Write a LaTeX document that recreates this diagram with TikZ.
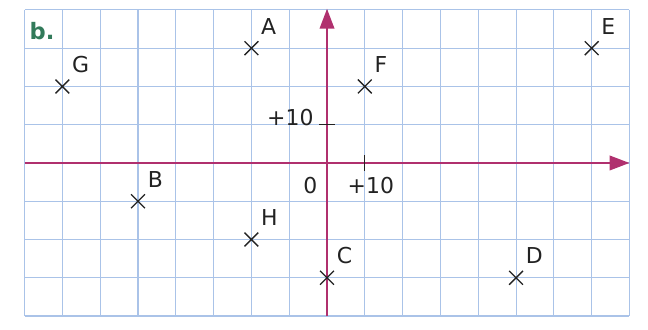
\documentclass[tikz,border=0pt]{standalone}
\usepackage{fontspec}
\setmainfont{DejaVu Sans}
\usepackage{xcolor}
\usepackage{tikz}
\usetikzlibrary{positioning,shapes.misc,arrows.meta}
\definecolor{GRLine}{HTML}{AAC3E8}
\definecolor{GRAxis}{HTML}{B0306E}
\definecolor{GRTitle}{HTML}{327A5A}
\definecolor{GRInk}{HTML}{222222}

\begin{document}
\begin{tikzpicture}[x=1cm,y=1.012cm,
  pt/.style={draw=GRInk,cross out,line width=1pt,minimum size=3.3mm,inner sep=0pt},
  lbl/.style={text=GRInk,inner sep=0pt,font=\fontsize{16.5}{19}\selectfont},
  axis/.style={GRAxis,line width=1.5pt,-{Triangle[length=15pt,width=11pt]}}]
\useasboundingbox (-8.65,-4.34) rectangle (8.49,4.26);
% squared paper
\foreach \i in {-8,...,8} \draw[GRLine,line width=0.8pt] (\i,-4) -- (\i,4);
\foreach \j in {-4,...,4} \draw[GRLine,line width=0.8pt] (-8,\j) -- (8,\j);
% axes
\coordinate (xs) at (-8,0);
\coordinate (xe) at (8,0);
\coordinate (ys) at (0,-4);
\coordinate (ye) at (0,4.03);
\draw[axis] (xs) -- (xe);
\draw[axis] (ys) -- (ye);
\draw[GRInk,line width=0.8pt] (1,-0.2) -- (1,0.2);
\draw[GRInk,line width=0.8pt] (-0.2,1) -- (0.2,1);
\node[lbl] (ty) at (-0.97,1.19) {+10};
\node[lbl] (tx) at (1.16,-0.58) {+10};
\node[lbl] (to) at (-0.44,-0.58) {0};
\node[text=GRTitle,inner sep=0pt,font=\fontsize{17}{20}\bfseries\selectfont] (tag) at (-7.54,3.45) {b.};
% points
\node[pt] (A) at (-2,3) {};
\node[pt] (B) at (-5,-1) {};
\node[pt] (C) at (0,-3) {};
\node[pt] (D) at (5,-3) {};
\node[pt] (E) at (7,3) {};
\node[pt] (F) at (1,2) {};
\node[pt] (G) at (-7,2) {};
\node[pt] (H) at (-2,-2) {};
\node[lbl,above right=0.18cm and 0.07cm of A] (lA) {A};
\node[lbl,above right=0.18cm and 0.07cm of B] (lB) {B};
\node[lbl,above right=0.18cm and 0.07cm of C] (lC) {C};
\node[lbl,above right=0.18cm and 0.07cm of D] (lD) {D};
\node[lbl,above right=0.18cm and 0.07cm of E] (lE) {E};
\node[lbl,above right=0.18cm and 0.07cm of F] (lF) {F};
\node[lbl,above right=0.18cm and 0.07cm of G] (lG) {G};
\node[lbl,above right=0.18cm and 0.07cm of H] (lH) {H};
\end{tikzpicture}
\end{document}
